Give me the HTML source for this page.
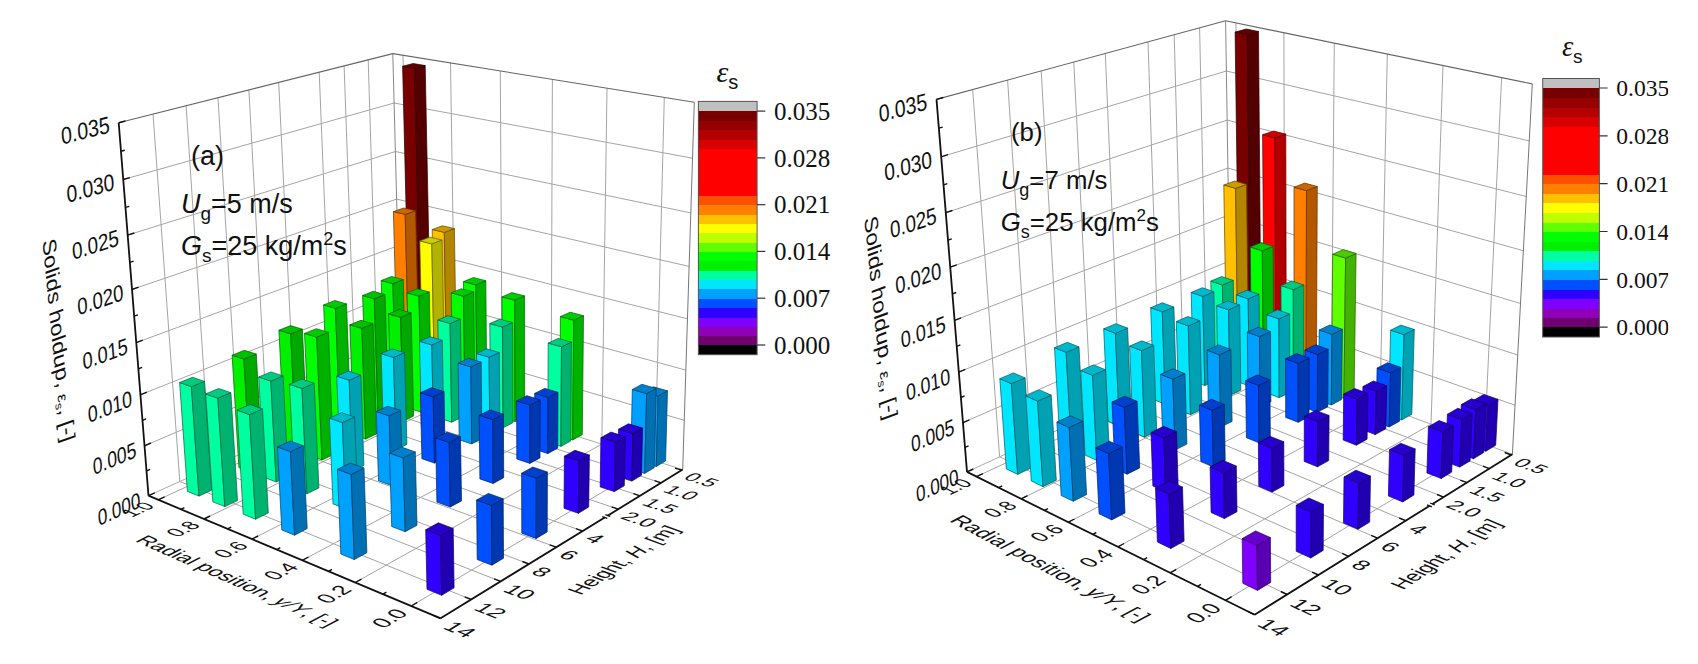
<!DOCTYPE html>
<html><head><meta charset="utf-8"><title>Solids holdup 3D bars</title>
<style>
html,body{margin:0;padding:0;background:#fff}
body{width:1698px;height:664px;overflow:hidden}
svg{display:block}
text{font-family:"Liberation Sans",sans-serif;fill:#111}
.cb{font-family:"Liberation Serif",serif}
.cbt{font-family:"Liberation Serif",serif;font-style:italic}
</style></head><body>
<svg width="1698" height="664" viewBox="0 0 1698 664">
<rect width="1698" height="664" fill="#fff"/>
<polygon points="148.5,495.7 401.4,380.9 392.8,53.6 118.7,122.7" fill="#fff"/>
<polygon points="401.4,380.9 682.7,469.6 694.3,102.3 392.8,53.6" fill="#fff"/>
<polygon points="148.5,495.7 440.6,618.3 682.7,469.6 401.4,380.9" fill="#fff"/>
<line x1="411.0" y1="383.9" x2="158.2" y2="499.8" stroke="#a4a4a4" stroke-width="1"/>
<line x1="411.0" y1="383.9" x2="403.0" y2="55.2" stroke="#a4a4a4" stroke-width="1"/>
<line x1="455.7" y1="398.0" x2="203.9" y2="519.0" stroke="#a4a4a4" stroke-width="1"/>
<line x1="455.7" y1="398.0" x2="450.5" y2="62.9" stroke="#a4a4a4" stroke-width="1"/>
<line x1="502.3" y1="412.7" x2="251.9" y2="539.1" stroke="#a4a4a4" stroke-width="1"/>
<line x1="502.3" y1="412.7" x2="500.3" y2="71.0" stroke="#a4a4a4" stroke-width="1"/>
<line x1="551.0" y1="428.0" x2="302.3" y2="560.3" stroke="#a4a4a4" stroke-width="1"/>
<line x1="551.0" y1="428.0" x2="552.4" y2="79.4" stroke="#a4a4a4" stroke-width="1"/>
<line x1="601.8" y1="444.1" x2="355.3" y2="582.5" stroke="#a4a4a4" stroke-width="1"/>
<line x1="601.8" y1="444.1" x2="607.0" y2="88.2" stroke="#a4a4a4" stroke-width="1"/>
<line x1="655.0" y1="460.8" x2="411.3" y2="606.0" stroke="#a4a4a4" stroke-width="1"/>
<line x1="655.0" y1="460.8" x2="664.3" y2="97.5" stroke="#a4a4a4" stroke-width="1"/>
<line x1="378.5" y1="391.3" x2="661.1" y2="482.8" stroke="#a4a4a4" stroke-width="1"/>
<line x1="378.5" y1="391.3" x2="368.2" y2="59.8" stroke="#a4a4a4" stroke-width="1"/>
<line x1="356.1" y1="401.5" x2="640.0" y2="495.8" stroke="#a4a4a4" stroke-width="1"/>
<line x1="356.1" y1="401.5" x2="344.1" y2="65.9" stroke="#a4a4a4" stroke-width="1"/>
<line x1="333.0" y1="411.9" x2="618.2" y2="509.2" stroke="#a4a4a4" stroke-width="1"/>
<line x1="333.0" y1="411.9" x2="319.2" y2="72.1" stroke="#a4a4a4" stroke-width="1"/>
<line x1="295.5" y1="429.0" x2="582.6" y2="531.1" stroke="#a4a4a4" stroke-width="1"/>
<line x1="295.5" y1="429.0" x2="278.7" y2="82.3" stroke="#a4a4a4" stroke-width="1"/>
<line x1="268.0" y1="441.5" x2="556.2" y2="547.2" stroke="#a4a4a4" stroke-width="1"/>
<line x1="268.0" y1="441.5" x2="248.9" y2="89.8" stroke="#a4a4a4" stroke-width="1"/>
<line x1="239.6" y1="454.4" x2="528.9" y2="564.0" stroke="#a4a4a4" stroke-width="1"/>
<line x1="239.6" y1="454.4" x2="218.0" y2="97.6" stroke="#a4a4a4" stroke-width="1"/>
<line x1="210.2" y1="467.7" x2="500.6" y2="581.4" stroke="#a4a4a4" stroke-width="1"/>
<line x1="210.2" y1="467.7" x2="186.1" y2="105.7" stroke="#a4a4a4" stroke-width="1"/>
<line x1="179.8" y1="481.5" x2="471.2" y2="599.5" stroke="#a4a4a4" stroke-width="1"/>
<line x1="179.8" y1="481.5" x2="153.0" y2="114.0" stroke="#a4a4a4" stroke-width="1"/>
<line x1="144.5" y1="445.8" x2="400.3" y2="336.7" stroke="#a4a4a4" stroke-width="1"/>
<line x1="400.3" y1="336.7" x2="684.2" y2="420.3" stroke="#a4a4a4" stroke-width="1"/>
<line x1="140.4" y1="394.8" x2="399.1" y2="291.6" stroke="#a4a4a4" stroke-width="1"/>
<line x1="399.1" y1="291.6" x2="685.8" y2="370.1" stroke="#a4a4a4" stroke-width="1"/>
<line x1="136.2" y1="342.7" x2="397.9" y2="245.8" stroke="#a4a4a4" stroke-width="1"/>
<line x1="397.9" y1="245.8" x2="687.4" y2="318.8" stroke="#a4a4a4" stroke-width="1"/>
<line x1="132.0" y1="289.5" x2="396.6" y2="199.1" stroke="#a4a4a4" stroke-width="1"/>
<line x1="396.6" y1="199.1" x2="689.1" y2="266.4" stroke="#a4a4a4" stroke-width="1"/>
<line x1="127.6" y1="235.1" x2="395.4" y2="151.5" stroke="#a4a4a4" stroke-width="1"/>
<line x1="395.4" y1="151.5" x2="690.8" y2="212.9" stroke="#a4a4a4" stroke-width="1"/>
<line x1="123.2" y1="179.5" x2="394.1" y2="103.0" stroke="#a4a4a4" stroke-width="1"/>
<line x1="394.1" y1="103.0" x2="692.5" y2="158.2" stroke="#a4a4a4" stroke-width="1"/>
<line x1="401.4" y1="380.9" x2="392.8" y2="53.6" stroke="#888" stroke-width="1"/>
<line x1="148.5" y1="495.7" x2="401.4" y2="380.9" stroke="#aaa" stroke-width="1"/>
<line x1="401.4" y1="380.9" x2="682.7" y2="469.6" stroke="#aaa" stroke-width="1"/>
<line x1="118.7" y1="122.7" x2="392.8" y2="53.6" stroke="#666" stroke-width="1.1"/>
<line x1="392.8" y1="53.6" x2="694.3" y2="102.3" stroke="#666" stroke-width="1.1"/>
<line x1="694.3" y1="102.3" x2="682.7" y2="469.6" stroke="#777" stroke-width="1"/>
<g stroke="#2d0000" stroke-width="0.7" stroke-linejoin="round">
<polygon points="410.5,388.4 421.9,392.1 414.7,68.3 402.6,66.3" fill="#780000"/>
<polygon points="421.9,392.1 431.7,387.5 425.2,65.5 414.7,68.3" fill="#540000"/>
<polygon points="402.6,66.3 414.7,68.3 425.2,65.5 413.1,63.5" fill="#600000"/>
</g>
<g stroke="#604800" stroke-width="0.7" stroke-linejoin="round">
<polygon points="435.5,396.4 447.1,400.1 444.3,232.4 432.2,229.5" fill="#ffc000"/>
<polygon points="447.1,400.1 456.9,395.4 454.4,228.6 444.3,232.4" fill="#b28600"/>
<polygon points="432.2,229.5 444.3,232.4 454.4,228.6 442.4,225.8" fill="#cc9900"/>
</g>
<g stroke="#006000" stroke-width="0.7" stroke-linejoin="round">
<polygon points="465.2,405.8 477.2,409.6 475.8,284.8 463.5,281.6" fill="#00ff00"/>
<polygon points="477.2,409.6 486.9,404.8 485.8,280.7 475.8,284.8" fill="#00b200"/>
<polygon points="463.5,281.6 475.8,284.8 485.8,280.7 473.5,277.5" fill="#00cc00"/>
</g>
<g stroke="#006000" stroke-width="0.7" stroke-linejoin="round">
<polygon points="502.6,417.7 515.1,421.6 514.7,300.2 501.9,296.9" fill="#00ff00"/>
<polygon points="515.1,421.6 524.7,416.7 524.6,295.9 514.7,300.2" fill="#00b200"/>
<polygon points="501.9,296.9 514.7,300.2 524.6,295.9 511.9,292.6" fill="#00cc00"/>
</g>
<g stroke="#006000" stroke-width="0.7" stroke-linejoin="round">
<polygon points="559.7,435.8 572.7,439.9 573.8,320.2 560.4,316.6" fill="#00ff00"/>
<polygon points="572.7,439.9 582.3,434.7 583.5,315.7 573.8,320.2" fill="#00b200"/>
<polygon points="560.4,316.6 573.8,320.2 583.5,315.7 570.2,312.2" fill="#00cc00"/>
</g>
<g stroke="#003c60" stroke-width="0.7" stroke-linejoin="round">
<polygon points="642.2,462.0 656.3,466.5 658.1,396.0 643.9,391.9" fill="#00a0ff"/>
<polygon points="656.3,466.5 665.6,460.9 667.5,390.8 658.1,396.0" fill="#0070b2"/>
<polygon points="643.9,391.9 658.1,396.0 667.5,390.8 653.3,386.8" fill="#0080cc"/>
</g>
<g stroke="#603000" stroke-width="0.7" stroke-linejoin="round">
<polygon points="398.3,394.1 409.7,397.7 405.2,214.4 393.4,211.6" fill="#ff8000"/>
<polygon points="409.7,397.7 419.7,393.1 415.6,210.7 405.2,214.4" fill="#b25900"/>
<polygon points="393.4,211.6 405.2,214.4 415.6,210.7 403.8,208.0" fill="#cc6600"/>
</g>
<g stroke="#606000" stroke-width="0.7" stroke-linejoin="round">
<polygon points="423.3,402.1 435.0,405.9 431.8,243.9 419.8,240.9" fill="#ffff00"/>
<polygon points="435.0,405.9 445.0,401.1 442.1,240.0 431.8,243.9" fill="#b2b200"/>
<polygon points="419.8,240.9 431.8,243.9 442.1,240.0 430.1,237.1" fill="#cccc00"/>
</g>
<g stroke="#006000" stroke-width="0.7" stroke-linejoin="round">
<polygon points="453.1,411.7 465.1,415.6 463.5,296.2 451.2,292.9" fill="#00ff00"/>
<polygon points="465.1,415.6 475.0,410.7 473.6,292.0 463.5,296.2" fill="#00b200"/>
<polygon points="451.2,292.9 463.5,296.2 473.6,292.0 461.3,288.7" fill="#00cc00"/>
</g>
<g stroke="#00603c" stroke-width="0.7" stroke-linejoin="round">
<polygon points="490.6,423.8 503.1,427.8 502.5,327.1 489.8,323.6" fill="#00ffa0"/>
<polygon points="503.1,427.8 512.9,422.7 512.5,322.6 502.5,327.1" fill="#00b270"/>
<polygon points="489.8,323.6 502.5,327.1 512.5,322.6 499.9,319.1" fill="#00cc80"/>
</g>
<g stroke="#00603c" stroke-width="0.7" stroke-linejoin="round">
<polygon points="547.8,442.2 560.9,446.4 561.5,346.8 548.2,343.1" fill="#00ffa0"/>
<polygon points="560.9,446.4 570.6,441.1 571.4,342.1 561.5,346.8" fill="#00b270"/>
<polygon points="548.2,343.1 561.5,346.8 571.4,342.1 558.1,338.4" fill="#00cc80"/>
</g>
<g stroke="#003c60" stroke-width="0.7" stroke-linejoin="round">
<polygon points="630.6,468.9 644.7,473.4 646.6,393.6 632.3,389.5" fill="#00a0ff"/>
<polygon points="644.7,473.4 654.2,467.7 656.2,388.4 646.6,393.6" fill="#0070b2"/>
<polygon points="632.3,389.5 646.6,393.6 656.2,388.4 641.9,384.3" fill="#0080cc"/>
</g>
<g stroke="#006000" stroke-width="0.7" stroke-linejoin="round">
<polygon points="384.8,400.3 396.2,404.0 392.9,283.7 381.2,280.5" fill="#00ff00"/>
<polygon points="396.2,404.0 406.4,399.3 403.3,279.6 392.9,283.7" fill="#00b200"/>
<polygon points="381.2,280.5 392.9,283.7 403.3,279.6 391.6,276.5" fill="#00cc00"/>
</g>
<g stroke="#006000" stroke-width="0.7" stroke-linejoin="round">
<polygon points="409.8,408.5 421.6,412.3 419.0,296.2 407.0,292.9" fill="#00ff00"/>
<polygon points="421.6,412.3 431.7,407.5 429.3,292.0 419.0,296.2" fill="#00b200"/>
<polygon points="407.0,292.9 419.0,296.2 429.3,292.0 417.4,288.8" fill="#00cc00"/>
</g>
<g stroke="#00603c" stroke-width="0.7" stroke-linejoin="round">
<polygon points="439.7,418.2 451.7,422.2 450.1,323.5 437.8,320.0" fill="#00ffa0"/>
<polygon points="451.7,422.2 461.8,417.2 460.4,319.1 450.1,323.5" fill="#00b270"/>
<polygon points="437.8,320.0 450.1,323.5 460.4,319.1 448.1,315.7" fill="#00cc80"/>
</g>
<g stroke="#005760" stroke-width="0.7" stroke-linejoin="round">
<polygon points="477.3,430.6 489.8,434.6 489.1,357.2 476.5,353.5" fill="#00e6ff"/>
<polygon points="489.8,434.6 499.8,429.5 499.3,352.5 489.1,357.2" fill="#00a1b2"/>
<polygon points="476.5,353.5 489.1,357.2 499.3,352.5 486.6,348.8" fill="#00b8cc"/>
</g>
<g stroke="#001e60" stroke-width="0.7" stroke-linejoin="round">
<polygon points="534.7,449.3 547.8,453.6 548.0,397.4 534.7,393.4" fill="#0050ff"/>
<polygon points="547.8,453.6 557.7,448.2 558.0,392.3 548.0,397.4" fill="#0038b2"/>
<polygon points="534.7,393.4 548.0,397.4 558.0,392.3 544.7,388.4" fill="#0040cc"/>
</g>
<g stroke="#120060" stroke-width="0.7" stroke-linejoin="round">
<polygon points="617.8,476.5 631.9,481.1 632.9,433.6 618.6,429.2" fill="#3000ff"/>
<polygon points="631.9,481.1 641.5,475.3 642.6,428.1 632.9,433.6" fill="#2100b2"/>
<polygon points="618.6,429.2 632.9,433.6 642.6,428.1 628.4,423.8" fill="#2600cc"/>
</g>
<g stroke="#005b00" stroke-width="0.7" stroke-linejoin="round">
<polygon points="366.4,408.8 377.9,412.6 374.3,298.8 362.6,295.5" fill="#00f000"/>
<polygon points="377.9,412.6 388.3,407.8 385.0,294.6 374.3,298.8" fill="#00a800"/>
<polygon points="362.6,295.5 374.3,298.8 385.0,294.6 373.2,291.3" fill="#00c000"/>
</g>
<g stroke="#005b00" stroke-width="0.7" stroke-linejoin="round">
<polygon points="391.5,417.2 403.3,421.1 400.6,317.3 388.6,313.9" fill="#00f000"/>
<polygon points="403.3,421.1 413.6,416.1 411.1,312.9 400.6,317.3" fill="#00a800"/>
<polygon points="388.6,313.9 400.6,317.3 411.1,312.9 399.2,309.5" fill="#00c000"/>
</g>
<g stroke="#005760" stroke-width="0.7" stroke-linejoin="round">
<polygon points="421.4,427.1 433.5,431.2 431.8,344.9 419.5,341.3" fill="#00e6ff"/>
<polygon points="433.5,431.2 443.8,426.1 442.3,340.3 431.8,344.9" fill="#00a1b2"/>
<polygon points="419.5,341.3 431.8,344.9 442.3,340.3 430.0,336.7" fill="#00b8cc"/>
</g>
<g stroke="#003c60" stroke-width="0.7" stroke-linejoin="round">
<polygon points="459.2,439.8 471.7,443.9 470.8,366.9 458.1,363.1" fill="#00a0ff"/>
<polygon points="471.7,443.9 481.9,438.7 481.2,362.1 470.8,366.9" fill="#0070b2"/>
<polygon points="458.1,363.1 470.8,366.9 481.2,362.1 468.5,358.3" fill="#0080cc"/>
</g>
<g stroke="#001e60" stroke-width="0.7" stroke-linejoin="round">
<polygon points="516.8,459.0 529.9,463.4 529.9,405.0 516.6,400.9" fill="#0050ff"/>
<polygon points="529.9,463.4 540.0,457.9 540.2,399.8 529.9,405.0" fill="#0038b2"/>
<polygon points="516.6,400.9 529.9,405.0 540.2,399.8 526.8,395.7" fill="#0040cc"/>
</g>
<g stroke="#120060" stroke-width="0.7" stroke-linejoin="round">
<polygon points="600.2,486.9 614.4,491.6 615.3,442.2 600.9,437.7" fill="#3000ff"/>
<polygon points="614.4,491.6 624.3,485.7 625.3,436.6 615.3,442.2" fill="#2100b2"/>
<polygon points="600.9,437.7 615.3,442.2 625.3,436.6 610.9,432.1" fill="#2600cc"/>
</g>
<g stroke="#006000" stroke-width="0.7" stroke-linejoin="round">
<polygon points="328.7,426.2 340.2,430.2 335.4,308.3 323.6,304.9" fill="#00ff00"/>
<polygon points="340.2,430.2 351.0,425.1 346.5,303.9 335.4,308.3" fill="#00b200"/>
<polygon points="323.6,304.9 335.4,308.3 346.5,303.9 334.8,300.5" fill="#00cc00"/>
</g>
<g stroke="#005b00" stroke-width="0.7" stroke-linejoin="round">
<polygon points="353.9,435.0 365.7,439.1 361.9,328.4 349.8,324.8" fill="#00f000"/>
<polygon points="365.7,439.1 376.5,433.9 373.0,323.8 361.9,328.4" fill="#00a800"/>
<polygon points="349.8,324.8 361.9,328.4 373.0,323.8 361.0,320.3" fill="#00c000"/>
</g>
<g stroke="#005760" stroke-width="0.7" stroke-linejoin="round">
<polygon points="383.9,445.5 396.1,449.7 393.5,357.4 381.1,353.6" fill="#00e6ff"/>
<polygon points="396.1,449.7 406.9,444.4 404.5,352.6 393.5,357.4" fill="#00a1b2"/>
<polygon points="381.1,353.6 393.5,357.4 404.5,352.6 392.2,348.9" fill="#00b8cc"/>
</g>
<g stroke="#001e60" stroke-width="0.7" stroke-linejoin="round">
<polygon points="421.9,458.7 434.5,463.1 433.2,396.8 420.4,392.7" fill="#0050ff"/>
<polygon points="434.5,463.1 445.2,457.6 444.1,391.7 433.2,396.8" fill="#0038b2"/>
<polygon points="420.4,392.7 433.2,396.8 444.1,391.7 431.3,387.7" fill="#0040cc"/>
</g>
<g stroke="#001e60" stroke-width="0.7" stroke-linejoin="round">
<polygon points="479.9,478.9 493.2,483.5 492.7,419.6 479.2,415.3" fill="#0050ff"/>
<polygon points="493.2,483.5 503.7,477.7 503.4,414.2 492.7,419.6" fill="#0038b2"/>
<polygon points="479.2,415.3 492.7,419.6 503.4,414.2 490.0,409.9" fill="#0040cc"/>
</g>
<g stroke="#120060" stroke-width="0.7" stroke-linejoin="round">
<polygon points="564.0,508.3 578.4,513.3 578.9,460.9 564.4,456.2" fill="#3000ff"/>
<polygon points="578.4,513.3 588.7,507.0 589.4,455.0 578.9,460.9" fill="#2100b2"/>
<polygon points="564.4,456.2 578.9,460.9 589.4,455.0 574.9,450.3" fill="#2600cc"/>
</g>
<g stroke="#005b00" stroke-width="0.7" stroke-linejoin="round">
<polygon points="284.8,446.4 296.4,450.7 290.7,333.9 278.9,330.2" fill="#00f000"/>
<polygon points="296.4,450.7 307.8,445.3 302.4,329.2 290.7,333.9" fill="#00a800"/>
<polygon points="278.9,330.2 290.7,333.9 302.4,329.2 290.6,325.6" fill="#00c000"/>
</g>
<g stroke="#006000" stroke-width="0.7" stroke-linejoin="round">
<polygon points="310.1,455.7 322.0,460.0 316.7,337.1 304.5,333.4" fill="#00ff00"/>
<polygon points="322.0,460.0 333.4,454.6 328.4,332.3 316.7,337.1" fill="#00b200"/>
<polygon points="304.5,333.4 316.7,337.1 328.4,332.3 316.3,328.7" fill="#00cc00"/>
</g>
<g stroke="#005760" stroke-width="0.7" stroke-linejoin="round">
<polygon points="340.3,466.8 352.5,471.2 349.2,380.2 336.7,376.2" fill="#00e6ff"/>
<polygon points="352.5,471.2 363.9,465.6 360.8,375.1 349.2,380.2" fill="#00a1b2"/>
<polygon points="336.7,376.2 349.2,380.2 360.8,375.1 348.3,371.1" fill="#00b8cc"/>
</g>
<g stroke="#003c60" stroke-width="0.7" stroke-linejoin="round">
<polygon points="378.5,480.8 391.2,485.4 389.2,415.8 376.3,411.5" fill="#00a0ff"/>
<polygon points="391.2,485.4 402.5,479.6 400.6,410.4 389.2,415.8" fill="#0070b2"/>
<polygon points="376.3,411.5 389.2,415.8 400.6,410.4 387.8,406.2" fill="#0080cc"/>
</g>
<g stroke="#001e60" stroke-width="0.7" stroke-linejoin="round">
<polygon points="436.9,502.1 450.3,507.0 449.2,442.5 435.6,437.9" fill="#0050ff"/>
<polygon points="450.3,507.0 461.5,500.9 460.5,436.7 449.2,442.5" fill="#0038b2"/>
<polygon points="435.6,437.9 449.2,442.5 460.5,436.7 447.0,432.2" fill="#0040cc"/>
</g>
<g stroke="#001e60" stroke-width="0.7" stroke-linejoin="round">
<polygon points="521.8,533.2 536.2,538.5 536.3,478.2 521.6,473.2" fill="#0050ff"/>
<polygon points="536.2,538.5 547.2,531.9 547.4,472.0 536.3,478.2" fill="#0038b2"/>
<polygon points="521.6,473.2 536.3,478.2 547.4,472.0 532.8,467.1" fill="#0040cc"/>
</g>
<g stroke="#005b00" stroke-width="0.7" stroke-linejoin="round">
<polygon points="238.9,467.6 250.5,472.1 243.9,359.1 232.1,355.2" fill="#00f000"/>
<polygon points="250.5,472.1 262.5,466.5 256.3,354.1 243.9,359.1" fill="#00a800"/>
<polygon points="232.1,355.2 243.9,359.1 256.3,354.1 244.4,350.3" fill="#00c000"/>
</g>
<g stroke="#00603c" stroke-width="0.7" stroke-linejoin="round">
<polygon points="264.3,477.4 276.2,482.0 270.8,381.1 258.7,377.0" fill="#00ffa0"/>
<polygon points="276.2,482.0 288.2,476.2 283.1,375.9 270.8,381.1" fill="#00b270"/>
<polygon points="258.7,377.0 270.8,381.1 283.1,375.9 271.0,371.9" fill="#00cc80"/>
</g>
<g stroke="#00603c" stroke-width="0.7" stroke-linejoin="round">
<polygon points="294.6,489.1 306.9,493.8 302.0,388.5 289.5,384.3" fill="#00ffa0"/>
<polygon points="306.9,493.8 318.9,487.9 314.2,383.2 302.0,388.5" fill="#00b270"/>
<polygon points="289.5,384.3 302.0,388.5 314.2,383.2 301.7,379.1" fill="#00cc80"/>
</g>
<g stroke="#005760" stroke-width="0.7" stroke-linejoin="round">
<polygon points="333.0,503.9 345.7,508.8 342.4,422.6 329.4,418.1" fill="#00e6ff"/>
<polygon points="345.7,508.8 357.7,502.7 354.6,417.0 342.4,422.6" fill="#00a1b2"/>
<polygon points="329.4,418.1 342.4,422.6 354.6,417.0 341.6,412.6" fill="#00b8cc"/>
</g>
<g stroke="#003c60" stroke-width="0.7" stroke-linejoin="round">
<polygon points="391.7,526.5 405.2,531.7 403.2,457.9 389.5,453.1" fill="#00a0ff"/>
<polygon points="405.2,531.7 417.0,525.3 415.3,451.9 403.2,457.9" fill="#0070b2"/>
<polygon points="389.5,453.1 403.2,457.9 415.3,451.9 401.6,447.1" fill="#0080cc"/>
</g>
<g stroke="#001e60" stroke-width="0.7" stroke-linejoin="round">
<polygon points="477.2,559.5 491.9,565.2 491.4,505.3 476.6,500.0" fill="#0050ff"/>
<polygon points="491.9,565.2 503.5,558.2 503.2,498.7 491.4,505.3" fill="#0038b2"/>
<polygon points="476.6,500.0 491.4,505.3 503.2,498.7 488.4,493.4" fill="#0040cc"/>
</g>
<g stroke="#00603c" stroke-width="0.7" stroke-linejoin="round">
<polygon points="187.4,491.4 199.0,496.1 191.4,386.7 179.6,382.5" fill="#00ffa0"/>
<polygon points="199.0,496.1 211.7,490.2 204.5,381.4 191.4,386.7" fill="#00b270"/>
<polygon points="179.6,382.5 191.4,386.7 204.5,381.4 192.6,377.3" fill="#00cc80"/>
</g>
<g stroke="#00603c" stroke-width="0.7" stroke-linejoin="round">
<polygon points="212.8,501.8 224.8,506.6 217.8,398.2 205.7,393.9" fill="#00ffa0"/>
<polygon points="224.8,506.6 237.5,500.5 230.9,392.7 217.8,398.2" fill="#00b270"/>
<polygon points="205.7,393.9 217.8,398.2 230.9,392.7 218.7,388.5" fill="#00cc80"/>
</g>
<g stroke="#00603c" stroke-width="0.7" stroke-linejoin="round">
<polygon points="243.2,514.2 255.6,519.2 249.5,414.6 237.0,410.1" fill="#00ffa0"/>
<polygon points="255.6,519.2 268.3,512.9 262.5,408.9 249.5,414.6" fill="#00b270"/>
<polygon points="237.0,410.1 249.5,414.6 262.5,408.9 250.0,404.5" fill="#00cc80"/>
</g>
<g stroke="#003c60" stroke-width="0.7" stroke-linejoin="round">
<polygon points="281.8,529.9 294.6,535.2 290.4,451.7 277.4,446.9" fill="#00a0ff"/>
<polygon points="294.6,535.2 307.2,528.6 303.3,445.7 290.4,451.7" fill="#0070b2"/>
<polygon points="277.4,446.9 290.4,451.7 303.3,445.7 290.3,441.0" fill="#0080cc"/>
</g>
<g stroke="#003c60" stroke-width="0.7" stroke-linejoin="round">
<polygon points="340.8,554.0 354.3,559.6 351.2,474.4 337.4,469.3" fill="#00a0ff"/>
<polygon points="354.3,559.6 366.9,552.7 364.0,468.0 351.2,474.4" fill="#0070b2"/>
<polygon points="337.4,469.3 351.2,474.4 364.0,468.0 350.2,463.0" fill="#0080cc"/>
</g>
<g stroke="#120060" stroke-width="0.7" stroke-linejoin="round">
<polygon points="427.0,589.3 441.7,595.3 440.6,535.5 425.7,529.8" fill="#3000ff"/>
<polygon points="441.7,595.3 454.1,587.8 453.2,528.4 440.6,535.5" fill="#2100b2"/>
<polygon points="425.7,529.8 440.6,535.5 453.2,528.4 438.3,522.8" fill="#2600cc"/>
</g>
<line x1="148.5" y1="495.7" x2="118.7" y2="122.7" stroke="#111" stroke-width="1.8"/>
<line x1="148.5" y1="495.7" x2="440.6" y2="618.3" stroke="#111" stroke-width="1.8"/>
<line x1="440.6" y1="618.3" x2="682.7" y2="469.6" stroke="#111" stroke-width="1.8"/>
<line x1="148.5" y1="495.7" x2="154.8" y2="492.8" stroke="#111" stroke-width="1.4"/>
<line x1="146.5" y1="470.9" x2="150.1" y2="469.3" stroke="#111" stroke-width="1.4"/>
<line x1="144.5" y1="445.8" x2="150.9" y2="443.0" stroke="#111" stroke-width="1.4"/>
<line x1="142.4" y1="420.4" x2="146.1" y2="418.9" stroke="#111" stroke-width="1.4"/>
<line x1="140.4" y1="394.8" x2="146.9" y2="392.2" stroke="#111" stroke-width="1.4"/>
<line x1="138.3" y1="368.9" x2="142.1" y2="367.4" stroke="#111" stroke-width="1.4"/>
<line x1="136.2" y1="342.7" x2="142.8" y2="340.2" stroke="#111" stroke-width="1.4"/>
<line x1="134.1" y1="316.2" x2="137.9" y2="314.9" stroke="#111" stroke-width="1.4"/>
<line x1="132.0" y1="289.5" x2="138.6" y2="287.2" stroke="#111" stroke-width="1.4"/>
<line x1="129.8" y1="262.4" x2="133.6" y2="261.2" stroke="#111" stroke-width="1.4"/>
<line x1="127.6" y1="235.1" x2="134.3" y2="233.0" stroke="#111" stroke-width="1.4"/>
<line x1="125.4" y1="207.4" x2="129.3" y2="206.3" stroke="#111" stroke-width="1.4"/>
<line x1="123.2" y1="179.5" x2="129.9" y2="177.6" stroke="#111" stroke-width="1.4"/>
<line x1="120.9" y1="151.2" x2="124.8" y2="150.2" stroke="#111" stroke-width="1.4"/>
<line x1="118.7" y1="122.7" x2="125.4" y2="121.0" stroke="#111" stroke-width="1.4"/>
<line x1="411.3" y1="606.0" x2="417.3" y2="602.4" stroke="#111" stroke-width="1.4"/>
<line x1="382.9" y1="594.1" x2="386.4" y2="592.1" stroke="#111" stroke-width="1.4"/>
<line x1="355.3" y1="582.5" x2="361.5" y2="579.1" stroke="#111" stroke-width="1.4"/>
<line x1="328.5" y1="571.3" x2="332.0" y2="569.3" stroke="#111" stroke-width="1.4"/>
<line x1="302.3" y1="560.3" x2="308.5" y2="557.0" stroke="#111" stroke-width="1.4"/>
<line x1="276.8" y1="549.6" x2="280.3" y2="547.7" stroke="#111" stroke-width="1.4"/>
<line x1="251.9" y1="539.1" x2="258.1" y2="536.0" stroke="#111" stroke-width="1.4"/>
<line x1="227.6" y1="528.9" x2="231.2" y2="527.2" stroke="#111" stroke-width="1.4"/>
<line x1="203.9" y1="519.0" x2="210.2" y2="516.0" stroke="#111" stroke-width="1.4"/>
<line x1="180.8" y1="509.3" x2="184.4" y2="507.6" stroke="#111" stroke-width="1.4"/>
<line x1="158.2" y1="499.8" x2="164.6" y2="496.9" stroke="#111" stroke-width="1.4"/>
<line x1="681.6" y1="470.2" x2="675.0" y2="468.1" stroke="#111" stroke-width="1.4"/>
<line x1="661.1" y1="482.8" x2="654.5" y2="480.6" stroke="#111" stroke-width="1.4"/>
<line x1="640.0" y1="495.8" x2="633.4" y2="493.6" stroke="#111" stroke-width="1.4"/>
<line x1="618.2" y1="509.2" x2="611.6" y2="506.9" stroke="#111" stroke-width="1.4"/>
<line x1="582.6" y1="531.1" x2="576.0" y2="528.7" stroke="#111" stroke-width="1.4"/>
<line x1="556.2" y1="547.2" x2="549.7" y2="544.8" stroke="#111" stroke-width="1.4"/>
<line x1="528.9" y1="564.0" x2="522.4" y2="561.5" stroke="#111" stroke-width="1.4"/>
<line x1="500.6" y1="581.4" x2="494.1" y2="578.9" stroke="#111" stroke-width="1.4"/>
<line x1="471.2" y1="599.5" x2="464.7" y2="596.9" stroke="#111" stroke-width="1.4"/>
<line x1="440.6" y1="618.3" x2="434.1" y2="615.6" stroke="#111" stroke-width="1.4"/>
<line x1="607.7" y1="515.6" x2="605.0" y2="517.3" stroke="#fff" stroke-width="2.4"/>
<line x1="605.4" y1="514.7" x2="610.3" y2="516.4" stroke="#111" stroke-width="1.3"/>
<line x1="602.3" y1="516.6" x2="607.3" y2="518.3" stroke="#111" stroke-width="1.3"/>
<polygon points="967.0,471.9 1230.7,350.1 1225.6,20.8 936.5,99.4" fill="#fff"/>
<polygon points="1230.7,350.1 1512.4,454.3 1532.3,83.9 1225.6,20.8" fill="#fff"/>
<polygon points="967.0,471.9 1254.6,614.7 1512.4,454.3 1230.7,350.1" fill="#fff"/>
<line x1="1240.3" y1="353.6" x2="976.5" y2="476.6" stroke="#a4a4a4" stroke-width="1"/>
<line x1="1240.3" y1="353.6" x2="1235.9" y2="22.9" stroke="#a4a4a4" stroke-width="1"/>
<line x1="1284.8" y1="370.1" x2="1021.2" y2="498.8" stroke="#a4a4a4" stroke-width="1"/>
<line x1="1284.8" y1="370.1" x2="1283.9" y2="32.8" stroke="#a4a4a4" stroke-width="1"/>
<line x1="1331.3" y1="387.3" x2="1068.3" y2="522.2" stroke="#a4a4a4" stroke-width="1"/>
<line x1="1331.3" y1="387.3" x2="1334.3" y2="43.2" stroke="#a4a4a4" stroke-width="1"/>
<line x1="1380.0" y1="405.3" x2="1117.9" y2="546.8" stroke="#a4a4a4" stroke-width="1"/>
<line x1="1380.0" y1="405.3" x2="1387.3" y2="54.1" stroke="#a4a4a4" stroke-width="1"/>
<line x1="1431.0" y1="424.2" x2="1170.2" y2="572.8" stroke="#a4a4a4" stroke-width="1"/>
<line x1="1431.0" y1="424.2" x2="1443.0" y2="65.5" stroke="#a4a4a4" stroke-width="1"/>
<line x1="1484.4" y1="444.0" x2="1225.6" y2="600.3" stroke="#a4a4a4" stroke-width="1"/>
<line x1="1484.4" y1="444.0" x2="1501.6" y2="77.6" stroke="#a4a4a4" stroke-width="1"/>
<line x1="1206.8" y1="361.2" x2="1489.4" y2="468.6" stroke="#a4a4a4" stroke-width="1"/>
<line x1="1206.8" y1="361.2" x2="1199.6" y2="27.9" stroke="#a4a4a4" stroke-width="1"/>
<line x1="1183.3" y1="372.0" x2="1466.9" y2="482.6" stroke="#a4a4a4" stroke-width="1"/>
<line x1="1183.3" y1="372.0" x2="1174.2" y2="34.8" stroke="#a4a4a4" stroke-width="1"/>
<line x1="1159.3" y1="383.1" x2="1443.6" y2="497.1" stroke="#a4a4a4" stroke-width="1"/>
<line x1="1159.3" y1="383.1" x2="1148.0" y2="41.9" stroke="#a4a4a4" stroke-width="1"/>
<line x1="1120.1" y1="401.2" x2="1405.7" y2="520.7" stroke="#a4a4a4" stroke-width="1"/>
<line x1="1120.1" y1="401.2" x2="1105.3" y2="53.5" stroke="#a4a4a4" stroke-width="1"/>
<line x1="1091.4" y1="414.4" x2="1377.6" y2="538.2" stroke="#a4a4a4" stroke-width="1"/>
<line x1="1091.4" y1="414.4" x2="1073.8" y2="62.1" stroke="#a4a4a4" stroke-width="1"/>
<line x1="1061.8" y1="428.1" x2="1348.6" y2="556.3" stroke="#a4a4a4" stroke-width="1"/>
<line x1="1061.8" y1="428.1" x2="1041.2" y2="70.9" stroke="#a4a4a4" stroke-width="1"/>
<line x1="1031.2" y1="442.2" x2="1318.4" y2="575.0" stroke="#a4a4a4" stroke-width="1"/>
<line x1="1031.2" y1="442.2" x2="1007.6" y2="80.1" stroke="#a4a4a4" stroke-width="1"/>
<line x1="999.6" y1="456.8" x2="1287.1" y2="594.5" stroke="#a4a4a4" stroke-width="1"/>
<line x1="999.6" y1="456.8" x2="972.7" y2="89.5" stroke="#a4a4a4" stroke-width="1"/>
<line x1="963.0" y1="422.6" x2="1230.0" y2="306.1" stroke="#a4a4a4" stroke-width="1"/>
<line x1="1230.0" y1="306.1" x2="1515.0" y2="405.2" stroke="#a4a4a4" stroke-width="1"/>
<line x1="958.8" y1="372.1" x2="1229.3" y2="261.1" stroke="#a4a4a4" stroke-width="1"/>
<line x1="1229.3" y1="261.1" x2="1517.7" y2="355.0" stroke="#a4a4a4" stroke-width="1"/>
<line x1="954.6" y1="320.3" x2="1228.6" y2="215.1" stroke="#a4a4a4" stroke-width="1"/>
<line x1="1228.6" y1="215.1" x2="1520.5" y2="303.5" stroke="#a4a4a4" stroke-width="1"/>
<line x1="950.2" y1="267.2" x2="1227.9" y2="168.1" stroke="#a4a4a4" stroke-width="1"/>
<line x1="1227.9" y1="168.1" x2="1523.3" y2="250.7" stroke="#a4a4a4" stroke-width="1"/>
<line x1="945.8" y1="212.7" x2="1227.2" y2="120.1" stroke="#a4a4a4" stroke-width="1"/>
<line x1="1227.2" y1="120.1" x2="1526.3" y2="196.5" stroke="#a4a4a4" stroke-width="1"/>
<line x1="941.2" y1="156.8" x2="1226.4" y2="71.0" stroke="#a4a4a4" stroke-width="1"/>
<line x1="1226.4" y1="71.0" x2="1529.3" y2="140.9" stroke="#a4a4a4" stroke-width="1"/>
<line x1="1230.7" y1="350.1" x2="1225.6" y2="20.8" stroke="#888" stroke-width="1"/>
<line x1="967.0" y1="471.9" x2="1230.7" y2="350.1" stroke="#aaa" stroke-width="1"/>
<line x1="1230.7" y1="350.1" x2="1512.4" y2="454.3" stroke="#aaa" stroke-width="1"/>
<line x1="936.5" y1="99.4" x2="1225.6" y2="20.8" stroke="#666" stroke-width="1.1"/>
<line x1="1225.6" y1="20.8" x2="1532.3" y2="83.9" stroke="#666" stroke-width="1.1"/>
<line x1="1532.3" y1="83.9" x2="1512.4" y2="454.3" stroke="#777" stroke-width="1"/>
<g stroke="#2d0000" stroke-width="0.7" stroke-linejoin="round">
<polygon points="1239.5,359.4 1250.9,363.7 1247.4,34.7 1235.1,32.1" fill="#780000"/>
<polygon points="1250.9,363.7 1261.2,358.8 1258.5,31.5 1247.4,34.7" fill="#540000"/>
<polygon points="1235.1,32.1 1247.4,34.7 1258.5,31.5 1246.3,29.0" fill="#600000"/>
</g>
<g stroke="#600000" stroke-width="0.7" stroke-linejoin="round">
<polygon points="1264.4,368.7 1276.0,373.0 1274.9,137.9 1262.6,134.7" fill="#ff0000"/>
<polygon points="1276.0,373.0 1286.3,368.0 1285.8,134.1 1274.9,137.9" fill="#b20000"/>
<polygon points="1262.6,134.7 1274.9,137.9 1285.8,134.1 1273.5,131.0" fill="#cc0000"/>
</g>
<g stroke="#603000" stroke-width="0.7" stroke-linejoin="round">
<polygon points="1294.0,379.7 1306.0,384.2 1306.5,190.7 1294.0,187.2" fill="#ff8000"/>
<polygon points="1306.0,384.2 1316.3,379.1 1317.3,186.5 1306.5,190.7" fill="#b25900"/>
<polygon points="1294.0,187.2 1306.5,190.7 1317.3,186.5 1304.7,183.1" fill="#cc6600"/>
</g>
<g stroke="#246000" stroke-width="0.7" stroke-linejoin="round">
<polygon points="1331.5,393.7 1343.9,398.4 1345.6,258.1 1332.7,254.2" fill="#60ff00"/>
<polygon points="1343.9,398.4 1354.1,393.0 1356.1,253.5 1345.6,258.1" fill="#43b200"/>
<polygon points="1332.7,254.2 1345.6,258.1 1356.1,253.5 1343.3,249.6" fill="#4ccc00"/>
</g>
<g stroke="#005760" stroke-width="0.7" stroke-linejoin="round">
<polygon points="1388.6,415.0 1401.7,419.9 1404.0,334.7 1390.6,330.2" fill="#00e6ff"/>
<polygon points="1401.7,419.9 1411.8,414.3 1414.3,329.5 1404.0,334.7" fill="#00a1b2"/>
<polygon points="1390.6,330.2 1404.0,334.7 1414.3,329.5 1400.9,325.1" fill="#00b8cc"/>
</g>
<g stroke="#120060" stroke-width="0.7" stroke-linejoin="round">
<polygon points="1471.7,446.0 1485.8,451.3 1488.0,405.3 1473.7,400.3" fill="#3000ff"/>
<polygon points="1485.8,451.3 1495.7,445.2 1498.0,399.5 1488.0,405.3" fill="#2100b2"/>
<polygon points="1473.7,400.3 1488.0,405.3 1498.0,399.5 1483.7,394.5" fill="#2600cc"/>
</g>
<g stroke="#604800" stroke-width="0.7" stroke-linejoin="round">
<polygon points="1226.8,365.4 1238.1,369.7 1235.6,188.4 1223.8,185.0" fill="#ffc000"/>
<polygon points="1238.1,369.7 1248.6,364.8 1246.5,184.4 1235.6,188.4" fill="#b28600"/>
<polygon points="1223.8,185.0 1235.6,188.4 1246.5,184.4 1234.7,181.0" fill="#cc9900"/>
</g>
<g stroke="#006000" stroke-width="0.7" stroke-linejoin="round">
<polygon points="1251.6,374.8 1263.3,379.2 1262.3,250.8 1250.3,247.0" fill="#00ff00"/>
<polygon points="1263.3,379.2 1273.7,374.2 1273.1,246.4 1262.3,250.8" fill="#00b200"/>
<polygon points="1250.3,247.0 1262.3,250.8 1273.1,246.4 1261.1,242.6" fill="#00cc00"/>
</g>
<g stroke="#00603c" stroke-width="0.7" stroke-linejoin="round">
<polygon points="1281.3,386.1 1293.3,390.6 1293.3,289.7 1281.0,285.6" fill="#00ffa0"/>
<polygon points="1293.3,390.6 1303.7,385.4 1303.9,285.0 1293.3,289.7" fill="#00b270"/>
<polygon points="1281.0,285.6 1293.3,289.7 1303.9,285.0 1291.7,281.0" fill="#00cc80"/>
</g>
<g stroke="#003c60" stroke-width="0.7" stroke-linejoin="round">
<polygon points="1318.8,400.3 1331.3,405.0 1331.9,334.4 1319.2,330.0" fill="#00a0ff"/>
<polygon points="1331.3,405.0 1341.6,399.5 1342.4,329.3 1331.9,334.4" fill="#0070b2"/>
<polygon points="1319.2,330.0 1331.9,334.4 1342.4,329.3 1329.8,325.0" fill="#0080cc"/>
</g>
<g stroke="#001e60" stroke-width="0.7" stroke-linejoin="round">
<polygon points="1376.1,421.9 1389.2,426.9 1390.5,372.8 1377.1,368.1" fill="#0050ff"/>
<polygon points="1389.2,426.9 1399.5,421.2 1400.9,367.4 1390.5,372.8" fill="#0038b2"/>
<polygon points="1377.1,368.1 1390.5,372.8 1400.9,367.4 1387.6,362.7" fill="#0040cc"/>
</g>
<g stroke="#120060" stroke-width="0.7" stroke-linejoin="round">
<polygon points="1459.3,453.4 1473.5,458.8 1475.7,409.7 1461.3,404.6" fill="#3000ff"/>
<polygon points="1473.5,458.8 1483.6,452.6 1485.9,403.8 1475.7,409.7" fill="#2100b2"/>
<polygon points="1461.3,404.6 1475.7,409.7 1485.9,403.8 1471.5,398.8" fill="#2600cc"/>
</g>
<g stroke="#00603c" stroke-width="0.7" stroke-linejoin="round">
<polygon points="1212.6,372.1 1224.0,376.4 1222.4,285.0 1210.8,281.1" fill="#00ffa0"/>
<polygon points="1224.0,376.4 1234.6,371.4 1233.3,280.4 1222.4,285.0" fill="#00b270"/>
<polygon points="1210.8,281.1 1222.4,285.0 1233.3,280.4 1221.7,276.5" fill="#00cc80"/>
</g>
<g stroke="#005760" stroke-width="0.7" stroke-linejoin="round">
<polygon points="1237.5,381.6 1249.2,386.1 1248.2,298.9 1236.3,294.8" fill="#00e6ff"/>
<polygon points="1249.2,386.1 1259.8,381.0 1259.0,294.2 1248.2,298.9" fill="#00a1b2"/>
<polygon points="1236.3,294.8 1248.2,298.9 1259.0,294.2 1247.1,290.2" fill="#00b8cc"/>
</g>
<g stroke="#005760" stroke-width="0.7" stroke-linejoin="round">
<polygon points="1267.2,393.1 1279.2,397.7 1278.9,318.9 1266.7,314.7" fill="#00e6ff"/>
<polygon points="1279.2,397.7 1289.8,392.4 1289.7,314.0 1278.9,318.9" fill="#00a1b2"/>
<polygon points="1266.7,314.7 1278.9,318.9 1289.7,314.0 1277.5,309.8" fill="#00b8cc"/>
</g>
<g stroke="#001e60" stroke-width="0.7" stroke-linejoin="round">
<polygon points="1304.8,407.5 1317.3,412.3 1317.6,354.5 1304.9,350.0" fill="#0050ff"/>
<polygon points="1317.3,412.3 1327.8,406.8 1328.2,349.3 1317.6,354.5" fill="#0038b2"/>
<polygon points="1304.9,350.0 1317.6,354.5 1328.2,349.3 1315.6,344.8" fill="#0040cc"/>
</g>
<g stroke="#120060" stroke-width="0.7" stroke-linejoin="round">
<polygon points="1362.2,429.6 1375.3,434.6 1376.2,391.4 1362.9,386.6" fill="#3000ff"/>
<polygon points="1375.3,434.6 1385.8,428.8 1386.7,385.8 1376.2,391.4" fill="#2100b2"/>
<polygon points="1362.9,386.6 1376.2,391.4 1386.7,385.8 1373.4,381.0" fill="#2600cc"/>
</g>
<g stroke="#120060" stroke-width="0.7" stroke-linejoin="round">
<polygon points="1445.6,461.7 1459.8,467.1 1461.8,419.5 1447.4,414.3" fill="#3000ff"/>
<polygon points="1459.8,467.1 1470.1,460.9 1472.2,413.5 1461.8,419.5" fill="#2100b2"/>
<polygon points="1447.4,414.3 1461.8,419.5 1472.2,413.5 1457.8,408.3" fill="#2600cc"/>
</g>
<g stroke="#005760" stroke-width="0.7" stroke-linejoin="round">
<polygon points="1193.4,381.1 1204.8,385.6 1202.8,296.4 1191.2,292.4" fill="#00e6ff"/>
<polygon points="1204.8,385.6 1215.6,380.4 1213.9,291.7 1202.8,296.4" fill="#00a1b2"/>
<polygon points="1191.2,292.4 1202.8,296.4 1213.9,291.7 1202.3,287.7" fill="#00b8cc"/>
</g>
<g stroke="#005760" stroke-width="0.7" stroke-linejoin="round">
<polygon points="1218.3,390.9 1230.0,395.5 1228.6,309.9 1216.7,305.7" fill="#00e6ff"/>
<polygon points="1230.0,395.5 1240.8,390.2 1239.7,305.0 1228.6,309.9" fill="#00a1b2"/>
<polygon points="1216.7,305.7 1228.6,309.9 1239.7,305.0 1227.8,300.9" fill="#00b8cc"/>
</g>
<g stroke="#003c60" stroke-width="0.7" stroke-linejoin="round">
<polygon points="1248.1,402.6 1260.1,407.3 1259.5,336.6 1247.3,332.2" fill="#00a0ff"/>
<polygon points="1260.1,407.3 1270.9,401.9 1270.5,331.5 1259.5,336.6" fill="#0070b2"/>
<polygon points="1247.3,332.2 1259.5,336.6 1270.5,331.5 1258.3,327.2" fill="#0080cc"/>
</g>
<g stroke="#001e60" stroke-width="0.7" stroke-linejoin="round">
<polygon points="1285.7,417.4 1298.2,422.3 1298.2,363.4 1285.6,358.8" fill="#0050ff"/>
<polygon points="1298.2,422.3 1309.0,416.6 1309.2,358.1 1298.2,363.4" fill="#0038b2"/>
<polygon points="1285.6,358.8 1298.2,363.4 1309.2,358.1 1296.5,353.5" fill="#0040cc"/>
</g>
<g stroke="#120060" stroke-width="0.7" stroke-linejoin="round">
<polygon points="1343.2,440.0 1356.4,445.2 1357.1,399.1 1343.7,394.1" fill="#3000ff"/>
<polygon points="1356.4,445.2 1367.1,439.2 1367.9,393.4 1357.1,399.1" fill="#2100b2"/>
<polygon points="1343.7,394.1 1357.1,399.1 1367.9,393.4 1354.6,388.5" fill="#2600cc"/>
</g>
<g stroke="#120060" stroke-width="0.7" stroke-linejoin="round">
<polygon points="1426.9,472.9 1441.2,478.5 1442.9,432.1 1428.4,426.7" fill="#3000ff"/>
<polygon points="1441.2,478.5 1451.7,472.1 1453.5,425.9 1442.9,432.1" fill="#2100b2"/>
<polygon points="1428.4,426.7 1442.9,432.1 1453.5,425.9 1439.1,420.6" fill="#2600cc"/>
</g>
<g stroke="#005760" stroke-width="0.7" stroke-linejoin="round">
<polygon points="1153.8,399.7 1165.3,404.3 1162.3,311.9 1150.7,307.7" fill="#00e6ff"/>
<polygon points="1165.3,404.3 1176.6,398.9 1173.9,307.0 1162.3,311.9" fill="#00a1b2"/>
<polygon points="1150.7,307.7 1162.3,311.9 1173.9,307.0 1162.3,302.8" fill="#00b8cc"/>
</g>
<g stroke="#005760" stroke-width="0.7" stroke-linejoin="round">
<polygon points="1178.8,409.9 1190.5,414.7 1188.3,325.9 1176.3,321.5" fill="#00e6ff"/>
<polygon points="1190.5,414.7 1201.9,409.2 1199.9,320.8 1188.3,325.9" fill="#00a1b2"/>
<polygon points="1176.3,321.5 1188.3,325.9 1199.9,320.8 1187.9,316.5" fill="#00b8cc"/>
</g>
<g stroke="#003c60" stroke-width="0.7" stroke-linejoin="round">
<polygon points="1208.7,422.2 1220.7,427.1 1219.4,354.8 1207.1,350.2" fill="#00a0ff"/>
<polygon points="1220.7,427.1 1232.1,421.4 1230.9,349.5 1219.4,354.8" fill="#0070b2"/>
<polygon points="1207.1,350.2 1219.4,354.8 1230.9,349.5 1218.7,344.9" fill="#0080cc"/>
</g>
<g stroke="#001e60" stroke-width="0.7" stroke-linejoin="round">
<polygon points="1246.4,437.7 1259.0,442.8 1258.5,385.4 1245.7,380.5" fill="#0050ff"/>
<polygon points="1259.0,442.8 1270.3,436.9 1269.9,379.8 1258.5,385.4" fill="#0038b2"/>
<polygon points="1245.7,380.5 1258.5,385.4 1269.9,379.8 1257.2,375.0" fill="#0040cc"/>
</g>
<g stroke="#120060" stroke-width="0.7" stroke-linejoin="round">
<polygon points="1304.2,461.4 1317.5,466.8 1317.7,421.5 1304.3,416.3" fill="#3000ff"/>
<polygon points="1317.5,466.8 1328.7,460.6 1329.1,415.5 1317.7,421.5" fill="#2100b2"/>
<polygon points="1304.3,416.3 1317.7,421.5 1329.1,415.5 1315.6,410.4" fill="#2600cc"/>
</g>
<g stroke="#120060" stroke-width="0.7" stroke-linejoin="round">
<polygon points="1388.4,496.0 1402.8,501.9 1404.0,455.4 1389.5,449.7" fill="#3000ff"/>
<polygon points="1402.8,501.9 1413.9,495.1 1415.2,448.9 1404.0,455.4" fill="#2100b2"/>
<polygon points="1389.5,449.7 1404.0,455.4 1415.2,448.9 1400.7,443.3" fill="#2600cc"/>
</g>
<g stroke="#005760" stroke-width="0.7" stroke-linejoin="round">
<polygon points="1108.0,421.2 1119.4,426.1 1115.4,333.3 1103.7,328.8" fill="#00e6ff"/>
<polygon points="1119.4,426.1 1131.4,420.4 1127.6,328.1 1115.4,333.3" fill="#00a1b2"/>
<polygon points="1103.7,328.8 1115.4,333.3 1127.6,328.1 1116.0,323.7" fill="#00b8cc"/>
</g>
<g stroke="#005760" stroke-width="0.7" stroke-linejoin="round">
<polygon points="1133.0,432.0 1144.7,437.1 1141.5,350.7 1129.6,346.1" fill="#00e6ff"/>
<polygon points="1144.7,437.1 1156.7,431.2 1153.7,345.3 1141.5,350.7" fill="#00a1b2"/>
<polygon points="1129.6,346.1 1141.5,350.7 1153.7,345.3 1141.8,340.8" fill="#00b8cc"/>
</g>
<g stroke="#003c60" stroke-width="0.7" stroke-linejoin="round">
<polygon points="1162.9,444.9 1175.0,450.1 1172.9,379.2 1160.6,374.3" fill="#00a0ff"/>
<polygon points="1175.0,450.1 1186.9,444.1 1185.0,373.6 1172.9,379.2" fill="#0070b2"/>
<polygon points="1160.6,374.3 1172.9,379.2 1185.0,373.6 1172.7,368.8" fill="#0080cc"/>
</g>
<g stroke="#001e60" stroke-width="0.7" stroke-linejoin="round">
<polygon points="1200.8,461.3 1213.4,466.7 1212.2,410.3 1199.4,405.1" fill="#0050ff"/>
<polygon points="1213.4,466.7 1225.2,460.5 1224.3,404.4 1212.2,410.3" fill="#0038b2"/>
<polygon points="1199.4,405.1 1212.2,410.3 1224.3,404.4 1211.5,399.3" fill="#0040cc"/>
</g>
<g stroke="#120060" stroke-width="0.7" stroke-linejoin="round">
<polygon points="1258.8,486.3 1272.1,492.1 1271.8,448.2 1258.4,442.7" fill="#3000ff"/>
<polygon points="1272.1,492.1 1283.9,485.5 1283.8,441.8 1271.8,448.2" fill="#2100b2"/>
<polygon points="1258.4,442.7 1271.8,448.2 1283.8,441.8 1270.3,436.4" fill="#2600cc"/>
</g>
<g stroke="#120060" stroke-width="0.7" stroke-linejoin="round">
<polygon points="1343.5,522.9 1358.0,529.2 1358.7,483.0 1344.0,477.0" fill="#3000ff"/>
<polygon points="1358.0,529.2 1369.7,522.1 1370.5,476.1 1358.7,483.0" fill="#2100b2"/>
<polygon points="1344.0,477.0 1358.7,483.0 1370.5,476.1 1355.9,470.2" fill="#2600cc"/>
</g>
<g stroke="#005760" stroke-width="0.7" stroke-linejoin="round">
<polygon points="1060.1,443.7 1071.5,448.9 1066.1,352.4 1054.5,347.7" fill="#00e6ff"/>
<polygon points="1071.5,448.9 1084.0,442.9 1079.0,346.9 1066.1,352.4" fill="#00a1b2"/>
<polygon points="1054.5,347.7 1066.1,352.4 1079.0,346.9 1067.4,342.3" fill="#00b8cc"/>
</g>
<g stroke="#005760" stroke-width="0.7" stroke-linejoin="round">
<polygon points="1085.1,455.1 1096.8,460.4 1092.6,375.4 1080.7,370.5" fill="#00e6ff"/>
<polygon points="1096.8,460.4 1109.4,454.3 1105.5,369.7 1092.6,375.4" fill="#00a1b2"/>
<polygon points="1080.7,370.5 1092.6,375.4 1105.5,369.7 1093.5,364.9" fill="#00b8cc"/>
</g>
<g stroke="#001e60" stroke-width="0.7" stroke-linejoin="round">
<polygon points="1115.0,468.7 1127.1,474.2 1124.3,407.3 1112.0,402.1" fill="#0050ff"/>
<polygon points="1127.1,474.2 1139.7,467.9 1137.1,401.3 1124.3,407.3" fill="#0038b2"/>
<polygon points="1112.0,402.1 1124.3,407.3 1137.1,401.3 1124.8,396.2" fill="#0040cc"/>
</g>
<g stroke="#120060" stroke-width="0.7" stroke-linejoin="round">
<polygon points="1152.9,486.0 1165.5,491.8 1163.8,438.0 1151.0,432.5" fill="#3000ff"/>
<polygon points="1165.5,491.8 1178.1,485.2 1176.5,431.7 1163.8,438.0" fill="#2100b2"/>
<polygon points="1151.0,432.5 1163.8,438.0 1176.5,431.7 1163.7,426.3" fill="#2600cc"/>
</g>
<g stroke="#120060" stroke-width="0.7" stroke-linejoin="round">
<polygon points="1211.1,512.5 1224.4,518.6 1223.6,472.8 1210.1,466.9" fill="#3000ff"/>
<polygon points="1224.4,518.6 1237.0,511.7 1236.3,466.1 1223.6,472.8" fill="#2100b2"/>
<polygon points="1210.1,466.9 1223.6,472.8 1236.3,466.1 1222.8,460.3" fill="#2600cc"/>
</g>
<g stroke="#120060" stroke-width="0.7" stroke-linejoin="round">
<polygon points="1296.2,551.3 1310.8,558.0 1310.9,511.7 1296.2,505.3" fill="#3000ff"/>
<polygon points="1310.8,558.0 1323.2,550.4 1323.5,504.4 1310.9,511.7" fill="#2100b2"/>
<polygon points="1296.2,505.3 1310.9,511.7 1323.5,504.4 1308.8,498.1" fill="#2600cc"/>
</g>
<g stroke="#005760" stroke-width="0.7" stroke-linejoin="round">
<polygon points="1006.3,468.9 1017.7,474.4 1011.4,383.7 999.8,378.7" fill="#00e6ff"/>
<polygon points="1017.7,474.4 1031.0,468.1 1025.1,377.9 1011.4,383.7" fill="#00a1b2"/>
<polygon points="999.8,378.7 1011.4,383.7 1025.1,377.9 1013.4,372.9" fill="#00b8cc"/>
</g>
<g stroke="#005760" stroke-width="0.7" stroke-linejoin="round">
<polygon points="1031.3,481.0 1043.0,486.7 1037.6,401.1 1025.7,395.9" fill="#00e6ff"/>
<polygon points="1043.0,486.7 1056.3,480.2 1051.2,395.1 1037.6,401.1" fill="#00a1b2"/>
<polygon points="1025.7,395.9 1037.6,401.1 1051.2,395.1 1039.3,389.9" fill="#00b8cc"/>
</g>
<g stroke="#003c60" stroke-width="0.7" stroke-linejoin="round">
<polygon points="1061.2,495.5 1073.3,501.3 1069.2,427.5 1056.9,422.0" fill="#00a0ff"/>
<polygon points="1073.3,501.3 1086.6,494.6 1082.8,421.2 1069.2,427.5" fill="#0070b2"/>
<polygon points="1056.9,422.0 1069.2,427.5 1082.8,421.2 1070.4,415.8" fill="#0080cc"/>
</g>
<g stroke="#001e60" stroke-width="0.7" stroke-linejoin="round">
<polygon points="1099.1,513.8 1111.7,519.9 1108.7,453.6 1095.8,447.8" fill="#0050ff"/>
<polygon points="1111.7,519.9 1125.0,513.0 1122.2,447.0 1108.7,453.6" fill="#0038b2"/>
<polygon points="1095.8,447.8 1108.7,453.6 1122.2,447.0 1109.4,441.3" fill="#0040cc"/>
</g>
<g stroke="#120060" stroke-width="0.7" stroke-linejoin="round">
<polygon points="1157.4,542.0 1170.8,548.5 1169.1,494.2 1155.5,488.0" fill="#3000ff"/>
<polygon points="1170.8,548.5 1184.1,541.1 1182.5,487.1 1169.1,494.2" fill="#2100b2"/>
<polygon points="1155.5,488.0 1169.1,494.2 1182.5,487.1 1169.0,481.0" fill="#2600cc"/>
</g>
<g stroke="#300060" stroke-width="0.7" stroke-linejoin="round">
<polygon points="1242.8,583.3 1257.5,590.4 1257.0,545.4 1242.2,538.6" fill="#8000ff"/>
<polygon points="1257.5,590.4 1270.7,582.4 1270.4,537.6 1257.0,545.4" fill="#5900b2"/>
<polygon points="1242.2,538.6 1257.0,545.4 1270.4,537.6 1255.6,530.9" fill="#6600cc"/>
</g>
<line x1="967.0" y1="471.9" x2="936.5" y2="99.4" stroke="#111" stroke-width="1.8"/>
<line x1="967.0" y1="471.9" x2="1254.6" y2="614.7" stroke="#111" stroke-width="1.8"/>
<line x1="1254.6" y1="614.7" x2="1512.4" y2="454.3" stroke="#111" stroke-width="1.8"/>
<line x1="967.0" y1="471.9" x2="973.3" y2="469.0" stroke="#111" stroke-width="1.4"/>
<line x1="965.0" y1="447.4" x2="968.6" y2="445.8" stroke="#111" stroke-width="1.4"/>
<line x1="963.0" y1="422.6" x2="969.4" y2="419.8" stroke="#111" stroke-width="1.4"/>
<line x1="960.9" y1="397.5" x2="964.6" y2="395.9" stroke="#111" stroke-width="1.4"/>
<line x1="958.8" y1="372.1" x2="965.3" y2="369.4" stroke="#111" stroke-width="1.4"/>
<line x1="956.7" y1="346.3" x2="960.4" y2="344.9" stroke="#111" stroke-width="1.4"/>
<line x1="954.6" y1="320.3" x2="961.1" y2="317.8" stroke="#111" stroke-width="1.4"/>
<line x1="952.4" y1="293.9" x2="956.2" y2="292.5" stroke="#111" stroke-width="1.4"/>
<line x1="950.2" y1="267.2" x2="956.8" y2="264.8" stroke="#111" stroke-width="1.4"/>
<line x1="948.0" y1="240.1" x2="951.8" y2="238.8" stroke="#111" stroke-width="1.4"/>
<line x1="945.8" y1="212.7" x2="952.4" y2="210.5" stroke="#111" stroke-width="1.4"/>
<line x1="943.5" y1="184.9" x2="947.3" y2="183.7" stroke="#111" stroke-width="1.4"/>
<line x1="941.2" y1="156.8" x2="947.9" y2="154.7" stroke="#111" stroke-width="1.4"/>
<line x1="938.9" y1="128.2" x2="942.7" y2="127.1" stroke="#111" stroke-width="1.4"/>
<line x1="936.5" y1="99.4" x2="943.3" y2="97.5" stroke="#111" stroke-width="1.4"/>
<line x1="1225.6" y1="600.3" x2="1231.6" y2="596.7" stroke="#111" stroke-width="1.4"/>
<line x1="1197.5" y1="586.3" x2="1200.9" y2="584.3" stroke="#111" stroke-width="1.4"/>
<line x1="1170.2" y1="572.8" x2="1176.3" y2="569.3" stroke="#111" stroke-width="1.4"/>
<line x1="1143.7" y1="559.6" x2="1147.2" y2="557.7" stroke="#111" stroke-width="1.4"/>
<line x1="1117.9" y1="546.8" x2="1124.0" y2="543.5" stroke="#111" stroke-width="1.4"/>
<line x1="1092.7" y1="534.3" x2="1096.3" y2="532.5" stroke="#111" stroke-width="1.4"/>
<line x1="1068.3" y1="522.2" x2="1074.5" y2="519.0" stroke="#111" stroke-width="1.4"/>
<line x1="1044.4" y1="510.3" x2="1048.0" y2="508.6" stroke="#111" stroke-width="1.4"/>
<line x1="1021.2" y1="498.8" x2="1027.5" y2="495.7" stroke="#111" stroke-width="1.4"/>
<line x1="998.6" y1="487.6" x2="1002.2" y2="485.9" stroke="#111" stroke-width="1.4"/>
<line x1="976.5" y1="476.6" x2="982.9" y2="473.7" stroke="#111" stroke-width="1.4"/>
<line x1="1511.3" y1="455.0" x2="1504.7" y2="452.5" stroke="#111" stroke-width="1.4"/>
<line x1="1489.4" y1="468.6" x2="1482.9" y2="466.1" stroke="#111" stroke-width="1.4"/>
<line x1="1466.9" y1="482.6" x2="1460.3" y2="480.1" stroke="#111" stroke-width="1.4"/>
<line x1="1443.6" y1="497.1" x2="1437.1" y2="494.5" stroke="#111" stroke-width="1.4"/>
<line x1="1405.7" y1="520.7" x2="1399.2" y2="518.0" stroke="#111" stroke-width="1.4"/>
<line x1="1377.6" y1="538.2" x2="1371.2" y2="535.4" stroke="#111" stroke-width="1.4"/>
<line x1="1348.6" y1="556.3" x2="1342.2" y2="553.4" stroke="#111" stroke-width="1.4"/>
<line x1="1318.4" y1="575.0" x2="1312.1" y2="572.1" stroke="#111" stroke-width="1.4"/>
<line x1="1287.1" y1="594.5" x2="1280.8" y2="591.5" stroke="#111" stroke-width="1.4"/>
<line x1="1254.6" y1="614.7" x2="1248.4" y2="611.6" stroke="#111" stroke-width="1.4"/>
<line x1="1432.3" y1="504.1" x2="1429.6" y2="505.8" stroke="#fff" stroke-width="2.4"/>
<line x1="1430.1" y1="503.0" x2="1434.9" y2="505.0" stroke="#111" stroke-width="1.3"/>
<line x1="1427.0" y1="504.9" x2="1431.9" y2="506.9" stroke="#111" stroke-width="1.3"/>
<rect x="698.4" y="101.4" width="58.7" height="9.7" fill="#c0c0c0"/>
<rect x="698.4" y="335.64" width="58.7" height="9.96" fill="#700070" shape-rendering="crispEdges"/>
<rect x="698.4" y="326.29" width="58.7" height="9.96" fill="#9000b8" shape-rendering="crispEdges"/>
<rect x="698.4" y="316.93" width="58.7" height="9.96" fill="#8000ff" shape-rendering="crispEdges"/>
<rect x="698.4" y="307.58" width="58.7" height="9.96" fill="#3000ff" shape-rendering="crispEdges"/>
<rect x="698.4" y="298.22" width="58.7" height="9.96" fill="#0050ff" shape-rendering="crispEdges"/>
<rect x="698.4" y="288.86" width="58.7" height="9.96" fill="#00a0ff" shape-rendering="crispEdges"/>
<rect x="698.4" y="279.51" width="58.7" height="9.96" fill="#00e6ff" shape-rendering="crispEdges"/>
<rect x="698.4" y="270.15" width="58.7" height="9.96" fill="#00ffa0" shape-rendering="crispEdges"/>
<rect x="698.4" y="260.80" width="58.7" height="9.96" fill="#00f000" shape-rendering="crispEdges"/>
<rect x="698.4" y="251.44" width="58.7" height="9.96" fill="#00ff00" shape-rendering="crispEdges"/>
<rect x="698.4" y="242.08" width="58.7" height="9.96" fill="#60ff00" shape-rendering="crispEdges"/>
<rect x="698.4" y="232.73" width="58.7" height="9.96" fill="#c0ff00" shape-rendering="crispEdges"/>
<rect x="698.4" y="223.37" width="58.7" height="9.96" fill="#ffff00" shape-rendering="crispEdges"/>
<rect x="698.4" y="214.02" width="58.7" height="9.96" fill="#ffc000" shape-rendering="crispEdges"/>
<rect x="698.4" y="204.66" width="58.7" height="9.96" fill="#ff8000" shape-rendering="crispEdges"/>
<rect x="698.4" y="195.30" width="58.7" height="9.96" fill="#ff5000" shape-rendering="crispEdges"/>
<rect x="698.4" y="185.95" width="58.7" height="9.96" fill="#ff0000" shape-rendering="crispEdges"/>
<rect x="698.4" y="176.59" width="58.7" height="9.96" fill="#ff0000" shape-rendering="crispEdges"/>
<rect x="698.4" y="167.24" width="58.7" height="9.96" fill="#ff0000" shape-rendering="crispEdges"/>
<rect x="698.4" y="157.88" width="58.7" height="9.96" fill="#ff0000" shape-rendering="crispEdges"/>
<rect x="698.4" y="148.52" width="58.7" height="9.96" fill="#ff0000" shape-rendering="crispEdges"/>
<rect x="698.4" y="139.17" width="58.7" height="9.96" fill="#d80000" shape-rendering="crispEdges"/>
<rect x="698.4" y="129.81" width="58.7" height="9.96" fill="#b40000" shape-rendering="crispEdges"/>
<rect x="698.4" y="120.46" width="58.7" height="9.96" fill="#960000" shape-rendering="crispEdges"/>
<rect x="698.4" y="111.10" width="58.7" height="9.96" fill="#780000" shape-rendering="crispEdges"/>
<rect x="698.4" y="345.0" width="58.7" height="9.7" fill="#000"/>
<rect x="698.4" y="101.4" width="58.7" height="253.3" fill="none" stroke="#555" stroke-width="1"/>
<line x1="757.1" y1="345.0" x2="765.3" y2="345.0" stroke="#333" stroke-width="1.2"/>
<text x="774.0" y="353.6" class="cb" font-size="25">0.000</text>
<line x1="757.1" y1="298.2" x2="765.3" y2="298.2" stroke="#333" stroke-width="1.2"/>
<text x="774.0" y="306.8" class="cb" font-size="25">0.007</text>
<line x1="757.1" y1="251.4" x2="765.3" y2="251.4" stroke="#333" stroke-width="1.2"/>
<text x="774.0" y="260.1" class="cb" font-size="25">0.014</text>
<line x1="757.1" y1="204.7" x2="765.3" y2="204.7" stroke="#333" stroke-width="1.2"/>
<text x="774.0" y="213.3" class="cb" font-size="25">0.021</text>
<line x1="757.1" y1="157.9" x2="765.3" y2="157.9" stroke="#333" stroke-width="1.2"/>
<text x="774.0" y="166.5" class="cb" font-size="25">0.028</text>
<line x1="757.1" y1="111.1" x2="765.3" y2="111.1" stroke="#333" stroke-width="1.2"/>
<text x="774.0" y="119.7" class="cb" font-size="25">0.035</text>
<text x="716.6" y="82.0" class="cbt" font-size="30.0">&#949;</text>
<text x="728.2" y="89.3" font-size="20.0">s</text>
<clipPath id="clipR"><rect x="1500" y="0" width="168.2" height="664"/></clipPath><g clip-path="url(#clipR)">
<rect x="1542.7" y="78.5" width="56.7" height="9.5" fill="#c0c0c0"/>
<rect x="1542.7" y="317.63" width="56.7" height="10.17" fill="#700070" shape-rendering="crispEdges"/>
<rect x="1542.7" y="308.06" width="56.7" height="10.17" fill="#9000b8" shape-rendering="crispEdges"/>
<rect x="1542.7" y="298.50" width="56.7" height="10.17" fill="#8000ff" shape-rendering="crispEdges"/>
<rect x="1542.7" y="288.93" width="56.7" height="10.17" fill="#3000ff" shape-rendering="crispEdges"/>
<rect x="1542.7" y="279.36" width="56.7" height="10.17" fill="#0050ff" shape-rendering="crispEdges"/>
<rect x="1542.7" y="269.79" width="56.7" height="10.17" fill="#00a0ff" shape-rendering="crispEdges"/>
<rect x="1542.7" y="260.22" width="56.7" height="10.17" fill="#00e6ff" shape-rendering="crispEdges"/>
<rect x="1542.7" y="250.66" width="56.7" height="10.17" fill="#00ffa0" shape-rendering="crispEdges"/>
<rect x="1542.7" y="241.09" width="56.7" height="10.17" fill="#00f000" shape-rendering="crispEdges"/>
<rect x="1542.7" y="231.52" width="56.7" height="10.17" fill="#00ff00" shape-rendering="crispEdges"/>
<rect x="1542.7" y="221.95" width="56.7" height="10.17" fill="#60ff00" shape-rendering="crispEdges"/>
<rect x="1542.7" y="212.38" width="56.7" height="10.17" fill="#c0ff00" shape-rendering="crispEdges"/>
<rect x="1542.7" y="202.82" width="56.7" height="10.17" fill="#ffff00" shape-rendering="crispEdges"/>
<rect x="1542.7" y="193.25" width="56.7" height="10.17" fill="#ffc000" shape-rendering="crispEdges"/>
<rect x="1542.7" y="183.68" width="56.7" height="10.17" fill="#ff8000" shape-rendering="crispEdges"/>
<rect x="1542.7" y="174.11" width="56.7" height="10.17" fill="#ff5000" shape-rendering="crispEdges"/>
<rect x="1542.7" y="164.54" width="56.7" height="10.17" fill="#ff0000" shape-rendering="crispEdges"/>
<rect x="1542.7" y="154.98" width="56.7" height="10.17" fill="#ff0000" shape-rendering="crispEdges"/>
<rect x="1542.7" y="145.41" width="56.7" height="10.17" fill="#ff0000" shape-rendering="crispEdges"/>
<rect x="1542.7" y="135.84" width="56.7" height="10.17" fill="#ff0000" shape-rendering="crispEdges"/>
<rect x="1542.7" y="126.27" width="56.7" height="10.17" fill="#ff0000" shape-rendering="crispEdges"/>
<rect x="1542.7" y="116.70" width="56.7" height="10.17" fill="#d80000" shape-rendering="crispEdges"/>
<rect x="1542.7" y="107.14" width="56.7" height="10.17" fill="#b40000" shape-rendering="crispEdges"/>
<rect x="1542.7" y="97.57" width="56.7" height="10.17" fill="#960000" shape-rendering="crispEdges"/>
<rect x="1542.7" y="88.00" width="56.7" height="10.17" fill="#780000" shape-rendering="crispEdges"/>
<rect x="1542.7" y="327.2" width="56.7" height="9.8" fill="#000"/>
<rect x="1542.7" y="78.5" width="56.7" height="258.5" fill="none" stroke="#555" stroke-width="1"/>
<line x1="1599.4" y1="327.2" x2="1607.6" y2="327.2" stroke="#333" stroke-width="1.2"/>
<text x="1616.3" y="335.3" class="cb" font-size="23.6">0.000</text>
<line x1="1599.4" y1="279.4" x2="1607.6" y2="279.4" stroke="#333" stroke-width="1.2"/>
<text x="1616.3" y="287.5" class="cb" font-size="23.6">0.007</text>
<line x1="1599.4" y1="231.5" x2="1607.6" y2="231.5" stroke="#333" stroke-width="1.2"/>
<text x="1616.3" y="239.7" class="cb" font-size="23.6">0.014</text>
<line x1="1599.4" y1="183.7" x2="1607.6" y2="183.7" stroke="#333" stroke-width="1.2"/>
<text x="1616.3" y="191.8" class="cb" font-size="23.6">0.021</text>
<line x1="1599.4" y1="135.8" x2="1607.6" y2="135.8" stroke="#333" stroke-width="1.2"/>
<text x="1616.3" y="144.0" class="cb" font-size="23.6">0.028</text>
<line x1="1599.4" y1="88.0" x2="1607.6" y2="88.0" stroke="#333" stroke-width="1.2"/>
<text x="1616.3" y="96.1" class="cb" font-size="23.6">0.035</text>
<text x="1562.0" y="56.4" class="cbt" font-size="28.6">&#949;</text>
<text x="1573.1" y="63.4" font-size="19.1">s</text>
</g>
<text transform="matrix(0.8468 -0.3845 0.0901 1.1030 140.85 506.95)" font-size="20" text-anchor="end">0.000</text>
<text transform="matrix(0.8646 -0.3689 0.0911 1.1149 136.76 456.81)" font-size="20" text-anchor="end">0.005</text>
<text transform="matrix(0.8824 -0.3519 0.0920 1.1267 132.58 405.61)" font-size="20" text-anchor="end">0.010</text>
<text transform="matrix(0.9002 -0.3334 0.0930 1.1386 128.30 353.31)" font-size="20" text-anchor="end">0.015</text>
<text transform="matrix(0.9179 -0.3135 0.0940 1.1505 123.94 299.88)" font-size="20" text-anchor="end">0.020</text>
<text transform="matrix(0.9355 -0.2920 0.0949 1.1623 119.48 245.28)" font-size="20" text-anchor="end">0.025</text>
<text transform="matrix(0.9528 -0.2690 0.0959 1.1742 114.92 189.47)" font-size="20" text-anchor="end">0.030</text>
<text transform="matrix(0.9697 -0.2443 0.0969 1.1860 110.26 132.41)" font-size="20" text-anchor="end">0.035</text>
<text transform="matrix(0.8586 -0.3938 0.9133 0.3869 155.85 506.60)" font-size="20" text-anchor="end">1.0</text>
<text transform="matrix(0.8703 -0.4182 0.9335 0.3955 201.54 525.96)" font-size="20" text-anchor="end">0.8</text>
<text transform="matrix(0.8807 -0.4446 0.9538 0.4041 249.52 546.28)" font-size="20" text-anchor="end">0.6</text>
<text transform="matrix(0.8896 -0.4730 0.9741 0.4127 299.97 567.66)" font-size="20" text-anchor="end">0.4</text>
<text transform="matrix(0.8966 -0.5038 0.9943 0.4212 353.08 590.16)" font-size="20" text-anchor="end">0.2</text>
<text transform="matrix(0.9016 -0.5371 1.0146 0.4298 409.07 613.87)" font-size="20" text-anchor="end">0.0</text>
<text transform="matrix(1.0046 0.3172 -0.7751 0.4814 682.31 478.77)" font-size="20" text-anchor="start">0.5</text>
<text transform="matrix(1.0148 0.3285 -0.7848 0.4874 661.87 491.46)" font-size="20" text-anchor="start">1.0</text>
<text transform="matrix(1.0248 0.3404 -0.7945 0.4934 640.80 504.55)" font-size="20" text-anchor="start">1.5</text>
<text transform="matrix(1.0346 0.3528 -0.8042 0.4995 619.07 518.05)" font-size="20" text-anchor="start">2.0</text>
<text transform="matrix(1.0494 0.3733 -0.8195 0.5089 583.53 540.12)" font-size="20" text-anchor="start">4</text>
<text transform="matrix(1.0594 0.3888 -0.8303 0.5156 557.26 556.43)" font-size="20" text-anchor="start">6</text>
<text transform="matrix(1.0690 0.4050 -0.8411 0.5223 530.02 573.35)" font-size="20" text-anchor="start">8</text>
<text transform="matrix(1.0781 0.4222 -0.8519 0.5291 501.75 590.91)" font-size="20" text-anchor="start">10</text>
<text transform="matrix(1.0867 0.4402 -0.8627 0.5358 472.38 609.15)" font-size="20" text-anchor="start">12</text>
<text transform="matrix(1.0948 0.4593 -0.8735 0.5425 441.86 628.10)" font-size="20" text-anchor="start">14</text>
<text transform="matrix(0.9677 0.4326 -0.9035 0.4734 230.96 584.18)" font-size="20" text-anchor="middle">Radial position, <tspan font-style="italic">y/Y</tspan>, [-]</text>
<text transform="matrix(0.8187 -0.5387 1.0343 0.3744 630.53 562.67)" font-size="20" text-anchor="middle">Height, <tspan font-style="italic">H</tspan>, [m]</text>
<text transform="matrix(0.1138 1.1745 -0.9425 0.3342 52.29 342.54)" font-size="20" text-anchor="middle">Solids holdup, <tspan font-size="15">&#949;</tspan><tspan font-size="11" dy="3">s</tspan><tspan dy="-3">, [-]</tspan></text>
<text transform="matrix(0.8443 -0.3899 0.0926 1.1028 959.07 483.31)" font-size="20" text-anchor="end">0.000</text>
<text transform="matrix(0.8616 -0.3759 0.0936 1.1147 954.92 433.85)" font-size="20" text-anchor="end">0.005</text>
<text transform="matrix(0.8789 -0.3606 0.0946 1.1265 950.66 383.15)" font-size="20" text-anchor="end">0.010</text>
<text transform="matrix(0.8963 -0.3439 0.0956 1.1384 946.29 331.17)" font-size="20" text-anchor="end">0.015</text>
<text transform="matrix(0.9136 -0.3258 0.0966 1.1503 941.82 277.86)" font-size="20" text-anchor="end">0.020</text>
<text transform="matrix(0.9309 -0.3062 0.0976 1.1621 937.22 223.17)" font-size="20" text-anchor="end">0.025</text>
<text transform="matrix(0.9481 -0.2850 0.0986 1.1740 932.51 167.04)" font-size="20" text-anchor="end">0.030</text>
<text transform="matrix(0.9650 -0.2622 0.0996 1.1858 927.67 109.41)" font-size="20" text-anchor="end">0.035</text>
<text transform="matrix(0.8561 -0.3993 0.8866 0.4447 973.60 484.03)" font-size="20" text-anchor="end">1.0</text>
<text transform="matrix(0.8676 -0.4238 0.9062 0.4546 1018.28 506.44)" font-size="20" text-anchor="end">0.8</text>
<text transform="matrix(0.8778 -0.4502 0.9259 0.4645 1065.32 530.04)" font-size="20" text-anchor="end">0.6</text>
<text transform="matrix(0.8866 -0.4786 0.9456 0.4743 1114.91 554.91)" font-size="20" text-anchor="end">0.4</text>
<text transform="matrix(0.8935 -0.5093 0.9653 0.4842 1167.28 581.18)" font-size="20" text-anchor="end">0.2</text>
<text transform="matrix(0.8984 -0.5425 0.9849 0.4941 1222.65 608.95)" font-size="20" text-anchor="end">0.0</text>
<text transform="matrix(0.9879 0.3660 -0.7723 0.4859 1512.07 464.15)" font-size="20" text-anchor="start">0.5</text>
<text transform="matrix(0.9971 0.3790 -0.7819 0.4919 1490.25 477.88)" font-size="20" text-anchor="start">1.0</text>
<text transform="matrix(1.0060 0.3926 -0.7916 0.4980 1467.76 492.03)" font-size="20" text-anchor="start">1.5</text>
<text transform="matrix(1.0146 0.4067 -0.8013 0.5041 1444.58 506.62)" font-size="20" text-anchor="start">2.0</text>
<text transform="matrix(1.0274 0.4302 -0.8165 0.5137 1406.68 530.46)" font-size="20" text-anchor="start">4</text>
<text transform="matrix(1.0358 0.4479 -0.8273 0.5205 1378.69 548.07)" font-size="20" text-anchor="start">6</text>
<text transform="matrix(1.0437 0.4664 -0.8380 0.5272 1349.68 566.32)" font-size="20" text-anchor="start">8</text>
<text transform="matrix(1.0510 0.4859 -0.8488 0.5340 1319.58 585.26)" font-size="20" text-anchor="start">10</text>
<text transform="matrix(1.0575 0.5064 -0.8595 0.5408 1288.33 604.92)" font-size="20" text-anchor="start">12</text>
<text transform="matrix(1.0633 0.5280 -0.8703 0.5475 1255.87 625.34)" font-size="20" text-anchor="start">14</text>
<text transform="matrix(0.9540 0.5062 -0.9358 0.4979 1043.94 571.68)" font-size="20" text-anchor="middle">Radial position, <tspan font-style="italic">y/Y</tspan>, [-]</text>
<text transform="matrix(0.8157 -0.5432 1.0119 0.4313 1452.88 557.14)" font-size="20" text-anchor="middle">Height, <tspan font-style="italic">H</tspan>, [m]</text>
<text transform="matrix(0.1186 1.1740 -0.9382 0.3461 874.51 319.95)" font-size="20" text-anchor="middle">Solids holdup, <tspan font-size="15">&#949;</tspan><tspan font-size="11" dy="3">s</tspan><tspan dy="-3">, [-]</tspan></text>
<text x="191" y="165" font-size="27">(a)</text>
<text x="181" y="213" font-size="27"><tspan font-style="italic">U</tspan><tspan font-size="19" dy="7">g</tspan><tspan dy="-7">=5 m/s</tspan></text>
<text x="181" y="254.6" font-size="27"><tspan font-style="italic">G</tspan><tspan font-size="19" dy="7">s</tspan><tspan dy="-7">=25 kg/m</tspan><tspan font-size="18" dy="-10">2</tspan><tspan dy="10">s</tspan></text>
<text x="1011" y="141.2" font-size="25.8">(b)</text>
<text x="1000.7" y="189.2" font-size="25.8"><tspan font-style="italic">U</tspan><tspan font-size="18" dy="7">g</tspan><tspan dy="-7">=7 m/s</tspan></text>
<text x="1000.7" y="230.6" font-size="25.8"><tspan font-style="italic">G</tspan><tspan font-size="18" dy="7">s</tspan><tspan dy="-7">=25 kg/m</tspan><tspan font-size="17" dy="-10">2</tspan><tspan dy="10">s</tspan></text>

</svg>
</body></html>
